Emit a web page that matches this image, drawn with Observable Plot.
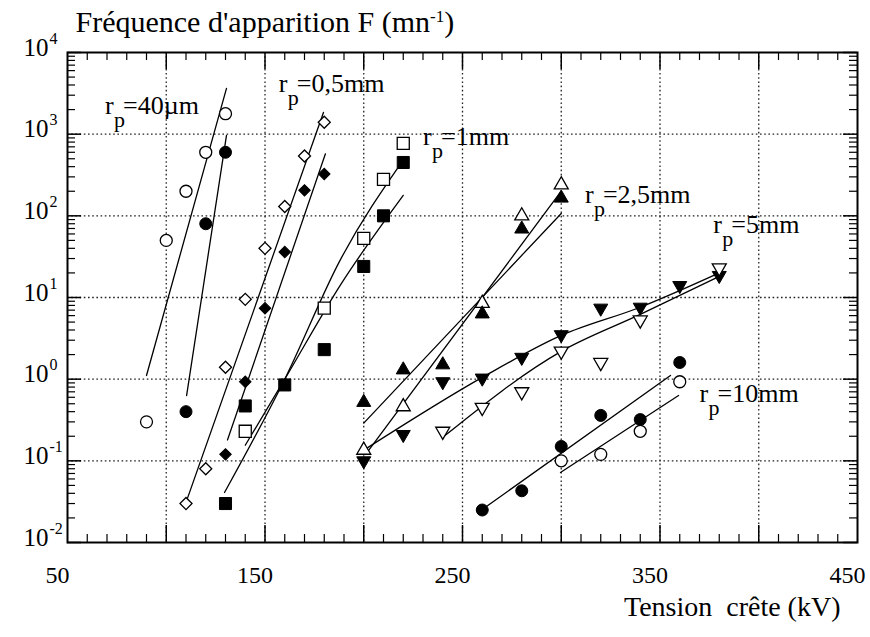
<!DOCTYPE html>
<html><head><meta charset="utf-8">
<script src="https://cdn.jsdelivr.net/npm/d3@7"></script>
<script src="https://cdn.jsdelivr.net/npm/@observablehq/plot@0.6"></script>
<style>
body{margin:0;background:#fff}
svg text{font-family:'Liberation Serif','Times New Roman',Times,'DejaVu Serif',serif !important}
</style>
</head><body><div id="chart"></div>
<script>
// ---------- axes / ticks ----------
const xTickLabels = [50, 150, 250, 350, 450];
const xGrid = [100, 150, 200, 250, 300, 350, 400];
const yDecades = [0.01, 0.1, 1, 10, 100, 1000, 10000];
const yExponents = ["-2", "-1", "0", "1", "2", "3", "4"];
const yGrid = [0.1, 1, 10, 100, 1000];
const titleMain = "Fréquence d'apparition F (mn";
const titleExp = "-1";
const titleEnd = ")";
const xLabel = "Tension  crête (kV)";

// ---------- measured points (kV, F in mn^-1) ----------
const kv40Open = [90, 100, 110, 120, 130];
const f40Open = [0.3, 50, 200, 600, 1780];
const kv40Fill = [110, 120, 130];
const f40Fill = [0.4, 80, 600];

const kv05Open = [110, 120, 130, 140, 150, 160, 170, 180];
const f05Open = [0.03, 0.08, 1.4, 9.5, 40, 130, 540, 1400];
const kv05Fill = [130, 140, 150, 160, 170, 180];
const f05Fill = [0.12, 0.93, 7.4, 36, 205, 325];

const kv1Open = [140, 180, 200, 210, 220];
const f1Open = [0.23, 7.4, 53, 280, 770];
const kv1Fill = [130, 140, 160, 180, 200, 210, 220];
const f1Fill = [0.03, 0.47, 0.85, 2.3, 24, 100, 450];

const kv25Open = [200, 220, 260, 280, 300];
const f25Open = [0.135, 0.46, 8.5, 100, 240];
const kv25Fill = [200, 220, 240, 260, 280, 300];
const f25Fill = [0.52, 1.3, 1.5, 6.3, 69, 165];

const kv5Fill = [200, 220, 240, 260, 280, 300, 320, 340, 360, 380];
const f5Fill = [0.10, 0.21, 0.93, 1.03, 1.85, 3.5, 7.4, 7.6, 14, 18.6];
const kv5Open = [240, 260, 280, 300, 320, 340, 380];
const f5Open = [0.23, 0.45, 0.70, 2.2, 1.6, 5.3, 23];

const kv10Fill = [260, 280, 300, 320, 340, 360];
const f10Fill = [0.025, 0.043, 0.15, 0.36, 0.32, 1.6];
const kv10Open = [300, 320, 340, 360];
const f10Open = [0.10, 0.12, 0.23, 0.93];

// ---------- fitted lines ----------
const fitKv40Open = [90, 130.5],      fitF40Open = [1.11, 3630];
const fitKv40Fill = [110.3, 130.5],   fitF40Fill = [0.63, 965];
const fitKv05Open = [109.7, 179.6],   fitF05Open = [0.0295, 1845];
const fitKv05Fill = [131, 180.6],     fitF05Fill = [0.18, 575];
const fitKv1A = [129.5, 160, 188, 220], fitF1A = [0.041, 1.0, 28.5, 480];
const fitKv1B = [140, 160, 188, 220],   fitF1B = [0.155, 1.0, 14, 178];
const fitKv25C = [200, 300],          fitF25C = [0.29, 107];
const fitKv25D = [202, 299.6],        fitF25D = [0.13, 195];
const fitKv5Fill = [200, 260, 300, 340, 380.6], fitF5Fill = [0.135, 1.05, 3.43, 7.6, 20.3];
const fitKv5Open = [240, 300, 340, 379],        fitF5Open = [0.194, 2.19, 6.2, 17.6];
const fitKv10Fill = [259.6, 355.3],   fitF10Fill = [0.025, 1.11];
const fitKv10Open = [299.6, 359.4],   fitF10Open = [0.072, 0.63];

// ---------- curve labels ----------
const labelText = ["=40µm", "=0,5mm", "=1mm", "=2,5mm", "=5mm", "=10mm"];
const labelKv = [69, 157, 230, 312, 377, 370];
const labelF = [1790, 3240, 730, 142, 61, 0.52];

// ---------- build ----------
const W = 870, H = 637, mL = 67, mR = 13, mT = 52, mB = 95;
const plotW = W - mL - mR, plotH = H - mT - mB;
const serif = "'Liberation Serif', 'Times New Roman', Times, 'DejaVu Serif', serif";

const xMinor = d3.range(60, 450, 10).filter(v => v % 50 !== 0);
const xMajor = [100, 150, 200, 250, 300, 350, 400];
const yMinor = yDecades.slice(0, -1).flatMap(d => [2,3,4,5,6,7,8,9].map(m => d * m));

const pts = (kv, f) => kv.map((k, i) => ({k, f: f[i]}));
const open = {fill: "white", stroke: "black", strokeWidth: 1.3};
const full = {fill: "black", stroke: "black", strokeWidth: 1};
const dot = (kv, f, o) => Plot.dot(pts(kv, f), {x: "k", y: "f", ...o});
const line = (kv, f) => Plot.line(pts(kv, f), {x: "k", y: "f", stroke: "black", strokeWidth: 1.3, curve: "monotone-x"});
const txt = (data, o) => Plot.text(data, {fontFamily: serif, fill: "black", ...o});

const yLab = yDecades.map((v, i) => ({v, e: yExponents[i]}));
const labs = labelText.map((t, i) => ({t, k: labelKv[i], f: labelF[i]}));

const chart = Plot.plot({
  width: W, height: H,
  marginLeft: mL, marginRight: mR, marginTop: mT, marginBottom: mB,
  x: {domain: [50, 450], axis: null},
  y: {type: "log", domain: [0.01, 10000], axis: null},
  style: {background: "white", color: "black"},
  marks: [
    Plot.ruleX(xGrid, {stroke: "#222", strokeWidth: 1.3, strokeDasharray: "1.6,2.6"}),
    Plot.ruleY(yGrid, {stroke: "#222", strokeWidth: 1.3, strokeDasharray: "1.6,2.6"}),
    Plot.ruleX(xMinor, {insetTop: plotH - 8, stroke: "black", strokeWidth: 1.2}),
    Plot.ruleX(xMinor, {insetBottom: plotH - 8, stroke: "black", strokeWidth: 1.2}),
    Plot.ruleX(xMajor, {insetTop: plotH - 17, stroke: "black", strokeWidth: 1.5}),
    Plot.ruleX(xMajor, {insetBottom: plotH - 17, stroke: "black", strokeWidth: 1.5}),
    Plot.ruleY(yMinor, {insetRight: plotW - 8, stroke: "black", strokeWidth: 1.2}),
    Plot.ruleY(yMinor, {insetLeft: plotW - 8, stroke: "black", strokeWidth: 1.2}),
    Plot.ruleY(yDecades, {insetRight: plotW - 14, stroke: "black", strokeWidth: 1.5}),
    Plot.ruleY(yDecades, {insetLeft: plotW - 14, stroke: "black", strokeWidth: 1.5}),
    Plot.frame({stroke: "black", strokeWidth: 2}),

    line(fitKv40Open, fitF40Open), line(fitKv40Fill, fitF40Fill),
    line(fitKv05Open, fitF05Open), line(fitKv05Fill, fitF05Fill),
    line(fitKv1A, fitF1A), line(fitKv1B, fitF1B),
    line(fitKv25C, fitF25C), line(fitKv25D, fitF25D),
    line(fitKv5Fill, fitF5Fill), line(fitKv5Open, fitF5Open),
    line(fitKv10Fill, fitF10Fill), line(fitKv10Open, fitF10Open),

    dot(kv40Open, f40Open, {symbol: "circle", r: 6, ...open}),
    dot(kv40Fill, f40Fill, {symbol: "circle", r: 6, ...full}),
    dot(kv05Open, f05Open, {symbol: "square", r: 4.8, rotate: 45, ...open}),
    dot(kv05Fill, f05Fill, {symbol: "square", r: 4.6, rotate: 45, ...full}),
    dot(kv1Open, f1Open, {symbol: "square", r: 6.8, ...open}),
    dot(kv1Fill, f1Fill, {symbol: "square", r: 6.8, ...full}),
    dot(kv25Open, f25Open, {symbol: "triangle", r: 5.2, ...open}),
    dot(kv25Fill, f25Fill, {symbol: "triangle", r: 5.2, ...full}),
    dot(kv5Fill, f5Fill, {symbol: "triangle", r: 5.2, rotate: 180, ...full}),
    dot(kv5Open, f5Open, {symbol: "triangle", r: 5.2, rotate: 180, ...open}),
    dot(kv10Fill, f10Fill, {symbol: "circle", r: 6, ...full}),
    dot(kv10Open, f10Open, {symbol: "circle", r: 6, ...open}),

    // curve labels: r, subscript p, =value
    txt(labs, {x: "k", y: "f", text: () => "r", textAnchor: "start", lineAnchor: "bottom", fontSize: 26}),
    txt(labs, {x: "k", y: "f", text: () => "p", textAnchor: "start", lineAnchor: "bottom", fontSize: 22, dx: 9, dy: 13}),
    txt(labs, {x: "k", y: "f", text: "t", textAnchor: "start", lineAnchor: "bottom", fontSize: 26, dx: 18}),

    // y tick labels 10^n
    txt(yLab, {y: "v", frameAnchor: "left", text: () => "10", textAnchor: "end", lineAnchor: "bottom", dx: -19, dy: 3, fontSize: 25}),
    txt(yLab, {y: "v", frameAnchor: "left", text: "e", textAnchor: "start", lineAnchor: "bottom", dx: -18, dy: -9, fontSize: 16}),
    // x tick labels
    txt(xTickLabels, {x: d => d, frameAnchor: "bottom", text: d => String(d), lineAnchor: "bottom", dx: -10, dy: 40, fontSize: 24}),
    // x axis title
    txt([xLabel], {frameAnchor: "bottom-right", text: d => d, textAnchor: "end", lineAnchor: "bottom", dx: -17, dy: 73, fontSize: 28}),
    // title
    txt([titleMain], {frameAnchor: "top-left", text: d => d, textAnchor: "start", lineAnchor: "bottom", dx: 8, dy: -21, fontSize: 30, ariaDescription: "charttitle"})
  ]
});

// superscript for the title unit
const tt = chart.querySelector('g[aria-description="charttitle"] text');
if (tt) {
  const ns = "http://www.w3.org/2000/svg";
  tt.textContent = "";
  const a = document.createElementNS(ns, "tspan"); a.textContent = titleMain; tt.appendChild(a);
  const b = document.createElementNS(ns, "tspan"); b.textContent = titleExp; b.setAttribute("dy", "-10"); b.setAttribute("font-size", "17"); tt.appendChild(b);
  const c = document.createElementNS(ns, "tspan"); c.textContent = titleEnd; c.setAttribute("dy", "10"); tt.appendChild(c);
}
document.getElementById("chart").appendChild(chart);
</script></body></html>
